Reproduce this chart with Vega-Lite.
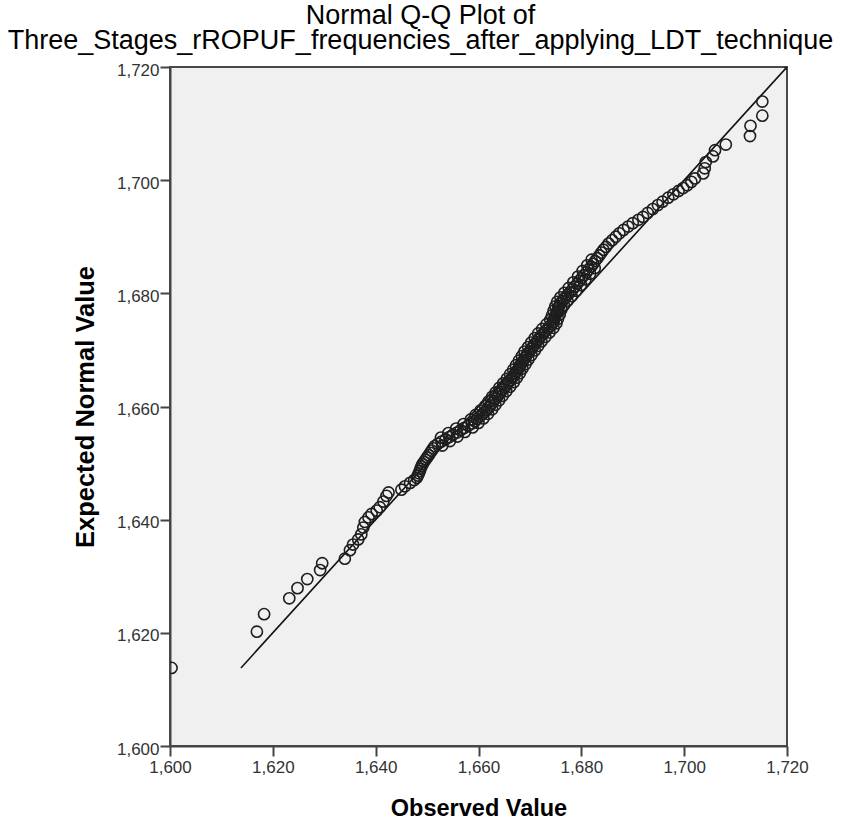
{
  "$schema": "https://vega.github.io/schema/vega-lite/v6.json",
  "width": 617,
  "height": 679,
  "autosize": {"type": "none"},
  "padding": {"left": 170, "top": 67, "right": 54, "bottom": 73},
  "background": "white",
  "title": {
    "text": ["Normal Q-Q Plot of", "Three_Stages_rROPUF_frequencies_after_applying_LDT_technique"],
    "font": "Liberation Sans",
    "fontSize": 27,
    "fontWeight": "normal",
    "color": "black",
    "anchor": "middle",
    "dx": -58,
    "offset": 6,
    "lineHeight": 25
  },
  "config": {
    "view": {"fill": "#f0f0f0", "stroke": "#4a4a4a", "strokeWidth": 2},
    "axis": {
      "grid": false,
      "domainColor": "#444444",
      "domainWidth": 2,
      "tickColor": "#444444",
      "tickWidth": 2,
      "tickSize": 10,
      "labelFont": "Liberation Sans",
      "labelFontSize": 17,
      "labelColor": "#333333",
      "labelFlush": false,
      "titleFont": "Liberation Sans",
      "titleFontWeight": "bold",
      "titleColor": "black"
    }
  },
  "datasets": {
    "pts": [
      {"obs": 1600.3, "exp": 1613.8},
      {"obs": 1616.9, "exp": 1620.2},
      {"obs": 1618.3, "exp": 1623.3},
      {"obs": 1623.2, "exp": 1626.1},
      {"obs": 1624.8, "exp": 1627.9},
      {"obs": 1626.7, "exp": 1629.5},
      {"obs": 1629.2, "exp": 1631.1},
      {"obs": 1629.6, "exp": 1632.3},
      {"obs": 1634.0, "exp": 1633.1},
      {"obs": 1635.0, "exp": 1634.6},
      {"obs": 1635.6, "exp": 1635.6},
      {"obs": 1636.6, "exp": 1636.5},
      {"obs": 1637.2, "exp": 1637.4},
      {"obs": 1637.6, "exp": 1638.6},
      {"obs": 1637.9, "exp": 1639.6},
      {"obs": 1638.6, "exp": 1640.4},
      {"obs": 1639.2, "exp": 1641.0},
      {"obs": 1640.2, "exp": 1641.6},
      {"obs": 1640.8, "exp": 1642.2},
      {"obs": 1641.5, "exp": 1643.2},
      {"obs": 1642.1, "exp": 1644.2},
      {"obs": 1642.5, "exp": 1644.8},
      {"obs": 1645.0, "exp": 1645.3},
      {"obs": 1645.7, "exp": 1645.9},
      {"obs": 1646.7, "exp": 1646.5},
      {"obs": 1647.5, "exp": 1647.0},
      {"obs": 1648.0, "exp": 1647.4},
      {"obs": 1648.2, "exp": 1647.8},
      {"obs": 1648.4, "exp": 1648.2},
      {"obs": 1648.6, "exp": 1648.6},
      {"obs": 1648.7, "exp": 1649.0},
      {"obs": 1648.9, "exp": 1649.4},
      {"obs": 1649.1, "exp": 1649.8},
      {"obs": 1649.4, "exp": 1650.2},
      {"obs": 1649.7, "exp": 1650.6},
      {"obs": 1650.0, "exp": 1651.0},
      {"obs": 1650.3, "exp": 1651.4},
      {"obs": 1650.6, "exp": 1651.8},
      {"obs": 1650.9, "exp": 1652.2},
      {"obs": 1651.2, "exp": 1652.6},
      {"obs": 1651.5, "exp": 1653.0},
      {"obs": 1652.1, "exp": 1653.4},
      {"obs": 1652.8, "exp": 1653.8},
      {"obs": 1653.6, "exp": 1654.2},
      {"obs": 1654.3, "exp": 1654.6},
      {"obs": 1655.0, "exp": 1655.0},
      {"obs": 1655.8, "exp": 1655.4},
      {"obs": 1656.5, "exp": 1655.8},
      {"obs": 1657.2, "exp": 1656.2},
      {"obs": 1658.0, "exp": 1656.6},
      {"obs": 1658.7, "exp": 1657.0},
      {"obs": 1659.3, "exp": 1657.4},
      {"obs": 1659.7, "exp": 1657.8},
      {"obs": 1660.2, "exp": 1658.2},
      {"obs": 1660.7, "exp": 1658.6},
      {"obs": 1661.1, "exp": 1659.0},
      {"obs": 1661.6, "exp": 1659.4},
      {"obs": 1662.0, "exp": 1659.8},
      {"obs": 1662.3, "exp": 1660.2},
      {"obs": 1662.6, "exp": 1660.6},
      {"obs": 1663.0, "exp": 1661.0},
      {"obs": 1663.3, "exp": 1661.4},
      {"obs": 1663.7, "exp": 1661.8},
      {"obs": 1664.0, "exp": 1662.2},
      {"obs": 1664.4, "exp": 1662.6},
      {"obs": 1664.7, "exp": 1663.0},
      {"obs": 1665.1, "exp": 1663.4},
      {"obs": 1665.5, "exp": 1663.8},
      {"obs": 1665.8, "exp": 1664.2},
      {"obs": 1666.2, "exp": 1664.6},
      {"obs": 1666.5, "exp": 1665.0},
      {"obs": 1666.8, "exp": 1665.4},
      {"obs": 1667.1, "exp": 1665.8},
      {"obs": 1667.4, "exp": 1666.2},
      {"obs": 1667.7, "exp": 1666.6},
      {"obs": 1667.9, "exp": 1667.0},
      {"obs": 1668.2, "exp": 1667.4},
      {"obs": 1668.5, "exp": 1667.8},
      {"obs": 1668.8, "exp": 1668.2},
      {"obs": 1669.1, "exp": 1668.6},
      {"obs": 1669.3, "exp": 1669.0},
      {"obs": 1669.6, "exp": 1669.4},
      {"obs": 1670.0, "exp": 1669.8},
      {"obs": 1670.3, "exp": 1670.2},
      {"obs": 1670.6, "exp": 1670.6},
      {"obs": 1670.9, "exp": 1671.0},
      {"obs": 1671.3, "exp": 1671.4},
      {"obs": 1671.6, "exp": 1671.8},
      {"obs": 1671.9, "exp": 1672.2},
      {"obs": 1672.3, "exp": 1672.6},
      {"obs": 1672.7, "exp": 1673.0},
      {"obs": 1673.1, "exp": 1673.4},
      {"obs": 1673.5, "exp": 1673.8},
      {"obs": 1673.9, "exp": 1674.2},
      {"obs": 1674.3, "exp": 1674.6},
      {"obs": 1674.6, "exp": 1675.0},
      {"obs": 1674.7, "exp": 1675.4},
      {"obs": 1674.9, "exp": 1675.8},
      {"obs": 1675.0, "exp": 1676.2},
      {"obs": 1675.2, "exp": 1676.6},
      {"obs": 1675.4, "exp": 1677.0},
      {"obs": 1675.5, "exp": 1677.4},
      {"obs": 1675.7, "exp": 1677.8},
      {"obs": 1675.9, "exp": 1678.2},
      {"obs": 1676.3, "exp": 1678.6},
      {"obs": 1676.6, "exp": 1679.0},
      {"obs": 1677.0, "exp": 1679.4},
      {"obs": 1677.4, "exp": 1679.8},
      {"obs": 1677.8, "exp": 1680.2},
      {"obs": 1678.3, "exp": 1680.7},
      {"obs": 1678.7, "exp": 1681.2},
      {"obs": 1679.2, "exp": 1681.7},
      {"obs": 1679.6, "exp": 1682.2},
      {"obs": 1680.1, "exp": 1682.7},
      {"obs": 1680.5, "exp": 1683.2},
      {"obs": 1681.0, "exp": 1683.7},
      {"obs": 1681.4, "exp": 1684.2},
      {"obs": 1681.9, "exp": 1684.7},
      {"obs": 1682.3, "exp": 1685.2},
      {"obs": 1682.7, "exp": 1685.7},
      {"obs": 1683.1, "exp": 1686.2},
      {"obs": 1683.5, "exp": 1686.7},
      {"obs": 1683.9, "exp": 1687.2},
      {"obs": 1684.3, "exp": 1687.7},
      {"obs": 1684.8, "exp": 1688.2},
      {"obs": 1685.3, "exp": 1688.8},
      {"obs": 1686.0, "exp": 1689.4},
      {"obs": 1686.7, "exp": 1690.0},
      {"obs": 1687.4, "exp": 1690.6},
      {"obs": 1688.2, "exp": 1691.2},
      {"obs": 1689.1, "exp": 1691.8},
      {"obs": 1690.0, "exp": 1692.4},
      {"obs": 1691.1, "exp": 1693.0},
      {"obs": 1692.0, "exp": 1693.5},
      {"obs": 1692.9, "exp": 1694.2},
      {"obs": 1693.9, "exp": 1694.9},
      {"obs": 1694.9, "exp": 1695.6},
      {"obs": 1695.8, "exp": 1696.2},
      {"obs": 1696.9, "exp": 1696.9},
      {"obs": 1697.9, "exp": 1697.5},
      {"obs": 1698.9, "exp": 1698.1},
      {"obs": 1699.8, "exp": 1698.6},
      {"obs": 1700.6, "exp": 1699.1},
      {"obs": 1701.4, "exp": 1699.7},
      {"obs": 1702.1, "exp": 1700.3},
      {"obs": 1703.7, "exp": 1701.2},
      {"obs": 1704.0, "exp": 1702.1},
      {"obs": 1704.2, "exp": 1703.2},
      {"obs": 1705.6, "exp": 1704.2},
      {"obs": 1706.0, "exp": 1705.3},
      {"obs": 1708.1, "exp": 1706.3},
      {"obs": 1712.8, "exp": 1707.8},
      {"obs": 1712.9, "exp": 1709.6},
      {"obs": 1715.2, "exp": 1711.4},
      {"obs": 1715.2, "exp": 1713.9},
      {"obs": 1720.6, "exp": 1720.4},
      {"obs": 1652.95, "exp": 1653.1},
      {"obs": 1652.7, "exp": 1654.5},
      {"obs": 1654.45, "exp": 1653.9},
      {"obs": 1654.15, "exp": 1655.3},
      {"obs": 1655.9, "exp": 1654.7},
      {"obs": 1655.65, "exp": 1656.1},
      {"obs": 1657.35, "exp": 1655.5},
      {"obs": 1657.1, "exp": 1656.9},
      {"obs": 1658.85, "exp": 1656.3},
      {"obs": 1658.5, "exp": 1657.7},
      {"obs": 1660.0, "exp": 1657.1},
      {"obs": 1659.45, "exp": 1658.5},
      {"obs": 1660.95, "exp": 1657.9},
      {"obs": 1660.4, "exp": 1659.3},
      {"obs": 1661.85, "exp": 1658.7},
      {"obs": 1661.3, "exp": 1660.1},
      {"obs": 1662.65, "exp": 1659.5},
      {"obs": 1661.95, "exp": 1660.9},
      {"obs": 1663.3, "exp": 1660.3},
      {"obs": 1662.65, "exp": 1661.7},
      {"obs": 1664.0, "exp": 1661.1},
      {"obs": 1663.35, "exp": 1662.5},
      {"obs": 1664.7, "exp": 1661.9},
      {"obs": 1664.05, "exp": 1663.3},
      {"obs": 1665.4, "exp": 1662.7},
      {"obs": 1664.8, "exp": 1664.1},
      {"obs": 1666.15, "exp": 1663.5},
      {"obs": 1665.5, "exp": 1664.9},
      {"obs": 1666.85, "exp": 1664.3},
      {"obs": 1666.15, "exp": 1665.7},
      {"obs": 1667.45, "exp": 1665.1},
      {"obs": 1666.75, "exp": 1666.5},
      {"obs": 1668.05, "exp": 1665.9},
      {"obs": 1667.3, "exp": 1667.3},
      {"obs": 1668.55, "exp": 1666.7},
      {"obs": 1667.85, "exp": 1668.1},
      {"obs": 1669.15, "exp": 1667.5},
      {"obs": 1668.45, "exp": 1668.9},
      {"obs": 1669.7, "exp": 1668.3},
      {"obs": 1668.95, "exp": 1669.7},
      {"obs": 1670.3, "exp": 1669.1},
      {"obs": 1669.65, "exp": 1670.5},
      {"obs": 1670.95, "exp": 1669.9},
      {"obs": 1670.25, "exp": 1671.3},
      {"obs": 1671.6, "exp": 1670.7},
      {"obs": 1670.95, "exp": 1672.1},
      {"obs": 1672.25, "exp": 1671.5},
      {"obs": 1671.6, "exp": 1672.9},
      {"obs": 1673.0, "exp": 1672.3},
      {"obs": 1672.4, "exp": 1673.7},
      {"obs": 1673.8, "exp": 1673.1},
      {"obs": 1673.2, "exp": 1674.5},
      {"obs": 1674.6, "exp": 1673.9},
      {"obs": 1673.95, "exp": 1675.3},
      {"obs": 1675.15, "exp": 1674.7},
      {"obs": 1674.3, "exp": 1676.1},
      {"obs": 1675.45, "exp": 1675.5},
      {"obs": 1674.6, "exp": 1676.9},
      {"obs": 1675.8, "exp": 1676.3},
      {"obs": 1674.95, "exp": 1677.7},
      {"obs": 1676.1, "exp": 1677.1},
      {"obs": 1675.3, "exp": 1678.5},
      {"obs": 1676.6, "exp": 1677.9},
      {"obs": 1675.95, "exp": 1679.3},
      {"obs": 1677.3, "exp": 1678.7},
      {"obs": 1676.7, "exp": 1680.1},
      {"obs": 1678.1, "exp": 1679.5},
      {"obs": 1677.55, "exp": 1680.95},
      {"obs": 1679.0, "exp": 1680.45},
      {"obs": 1678.45, "exp": 1681.95},
      {"obs": 1679.9, "exp": 1681.45},
      {"obs": 1679.35, "exp": 1682.95},
      {"obs": 1680.8, "exp": 1682.45},
      {"obs": 1680.25, "exp": 1683.95},
      {"obs": 1681.7, "exp": 1683.45},
      {"obs": 1681.15, "exp": 1684.95},
      {"obs": 1682.6, "exp": 1684.45},
      {"obs": 1682.0, "exp": 1685.95}
    ],
    "ref": [
      {"obs": 1613.8, "exp": 1613.8},
      {"obs": 1720, "exp": 1720}
    ]
  },
  "layer": [
    {
      "data": {"name": "ref"},
      "mark": {"type": "line", "color": "#111111", "strokeWidth": 1.6, "clip": true},
      "encoding": {
        "x": {"field": "obs", "type": "quantitative"},
        "y": {"field": "exp", "type": "quantitative"}
      }
    },
    {
      "data": {"name": "pts"},
      "mark": {"type": "point", "shape": "circle", "filled": false, "size": 125, "stroke": "#1e1e1e", "strokeWidth": 1.6, "opacity": 1, "clip": true},
      "encoding": {
        "x": {
          "field": "obs",
          "type": "quantitative",
          "scale": {"domain": [1600, 1720], "nice": false, "zero": false},
          "axis": {
            "values": [1600, 1620, 1640, 1660, 1680, 1700, 1720],
            "format": ",d",
            "title": "Observed Value",
            "titleFontSize": 23.5,
            "labelPadding": 3,
            "titleX": 308.5,
            "titleY": 69,
            "titleBaseline": "alphabetic",
            "titleAlign": "center"
          }
        },
        "y": {
          "field": "exp",
          "type": "quantitative",
          "scale": {"domain": [1600, 1720], "nice": false, "zero": false},
          "axis": {
            "values": [1600, 1620, 1640, 1660, 1680, 1700, 1720],
            "format": ",d",
            "title": "Expected Normal Value",
            "titleFontSize": 25.5,
            "labelPadding": 1,
            "labelOffset": 3,
            "titleX": -72,
            "titleY": 339.5,
            "titleAngle": 270,
            "titleAlign": "center",
            "titleBaseline": "bottom"
          }
        }
      }
    }
  ]
}
